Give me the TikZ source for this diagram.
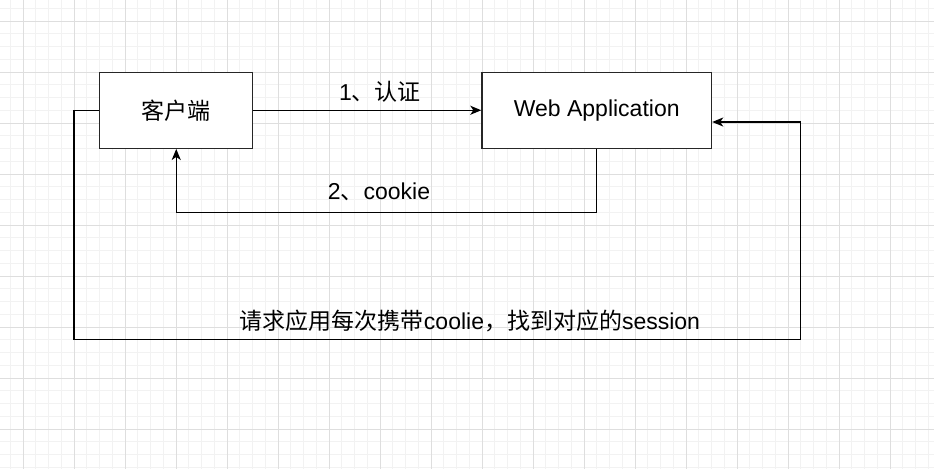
\documentclass[tikz,border=0pt]{standalone}
\usepackage{fontspec}
\setmainfont{Liberation Sans}
\newfontfamily\cjk{Noto Sans CJK SC}
\usetikzlibrary{arrows.meta}
\tikzset{
  gridminor/.style={draw=black!5, line width=0.9pt},
  gridmajor/.style={draw=black!13, line width=0.9pt},
  box/.style={draw=black!85, line width=1.4pt, fill=white, inner sep=0pt, font=\fontsize{23}{27}\selectfont},
  arr/.style={draw=black, line width=1.4pt, -{Stealth[length=11pt,width=9pt,inset=3pt]}},
  lbl/.style={inner sep=0pt, font=\fontsize{23}{27}\selectfont}
}
\begin{document}
\begin{tikzpicture}[x=1pt,y=-1pt]
\useasboundingbox (0,0) rectangle (934,469);
\fill[white] (0,0) rectangle (934,469);
% grid
\foreach \i in {0,...,74} {
  \draw[gridminor] ({-2.5+12.75*\i},0) -- ++(0,469);
}
\foreach \i in {0,...,37} {
  \draw[gridminor] (0,{-4.5+12.75*\i}) -- ++(934,0);
}
\foreach \i in {0,...,18} {
  \draw[gridmajor] ({23+51*\i},0) -- ++(0,469);
}
\foreach \i in {0,...,9} {
  \draw[gridmajor] (0,{21+51*\i}) -- ++(934,0);
}
% boxes
\node[box, minimum width=153pt, minimum height=76pt] (client) at (176.25,110.25) {\cjk 客户端};
\node[box, minimum width=229.5pt, minimum height=76pt] (web) at (596.75,110.25) {Web Application};
% connectors
\draw[arr] (client.east) -- (web.west);
\coordinate (c2) at (176.25,212.25);
\draw[arr] (web.south) |- (c2) -- (client.south);
\coordinate (p1) at (74,339.75);
\coordinate (p2) at (800.75,122);
\draw[arr] (client.west) -| (p1) -| (p2) -- (web.east |- p2);
% labels
\node[lbl] (l1) at (380,92) {1{\cjk 、认证}};
\node[lbl] (l2) at (379,192) {2{\cjk 、}cookie};
\node[lbl] (l3) at (470,321) {{\cjk 请求应用每次携带}coolie{\cjk ，找到对应的}session};
\end{tikzpicture}
\end{document}
